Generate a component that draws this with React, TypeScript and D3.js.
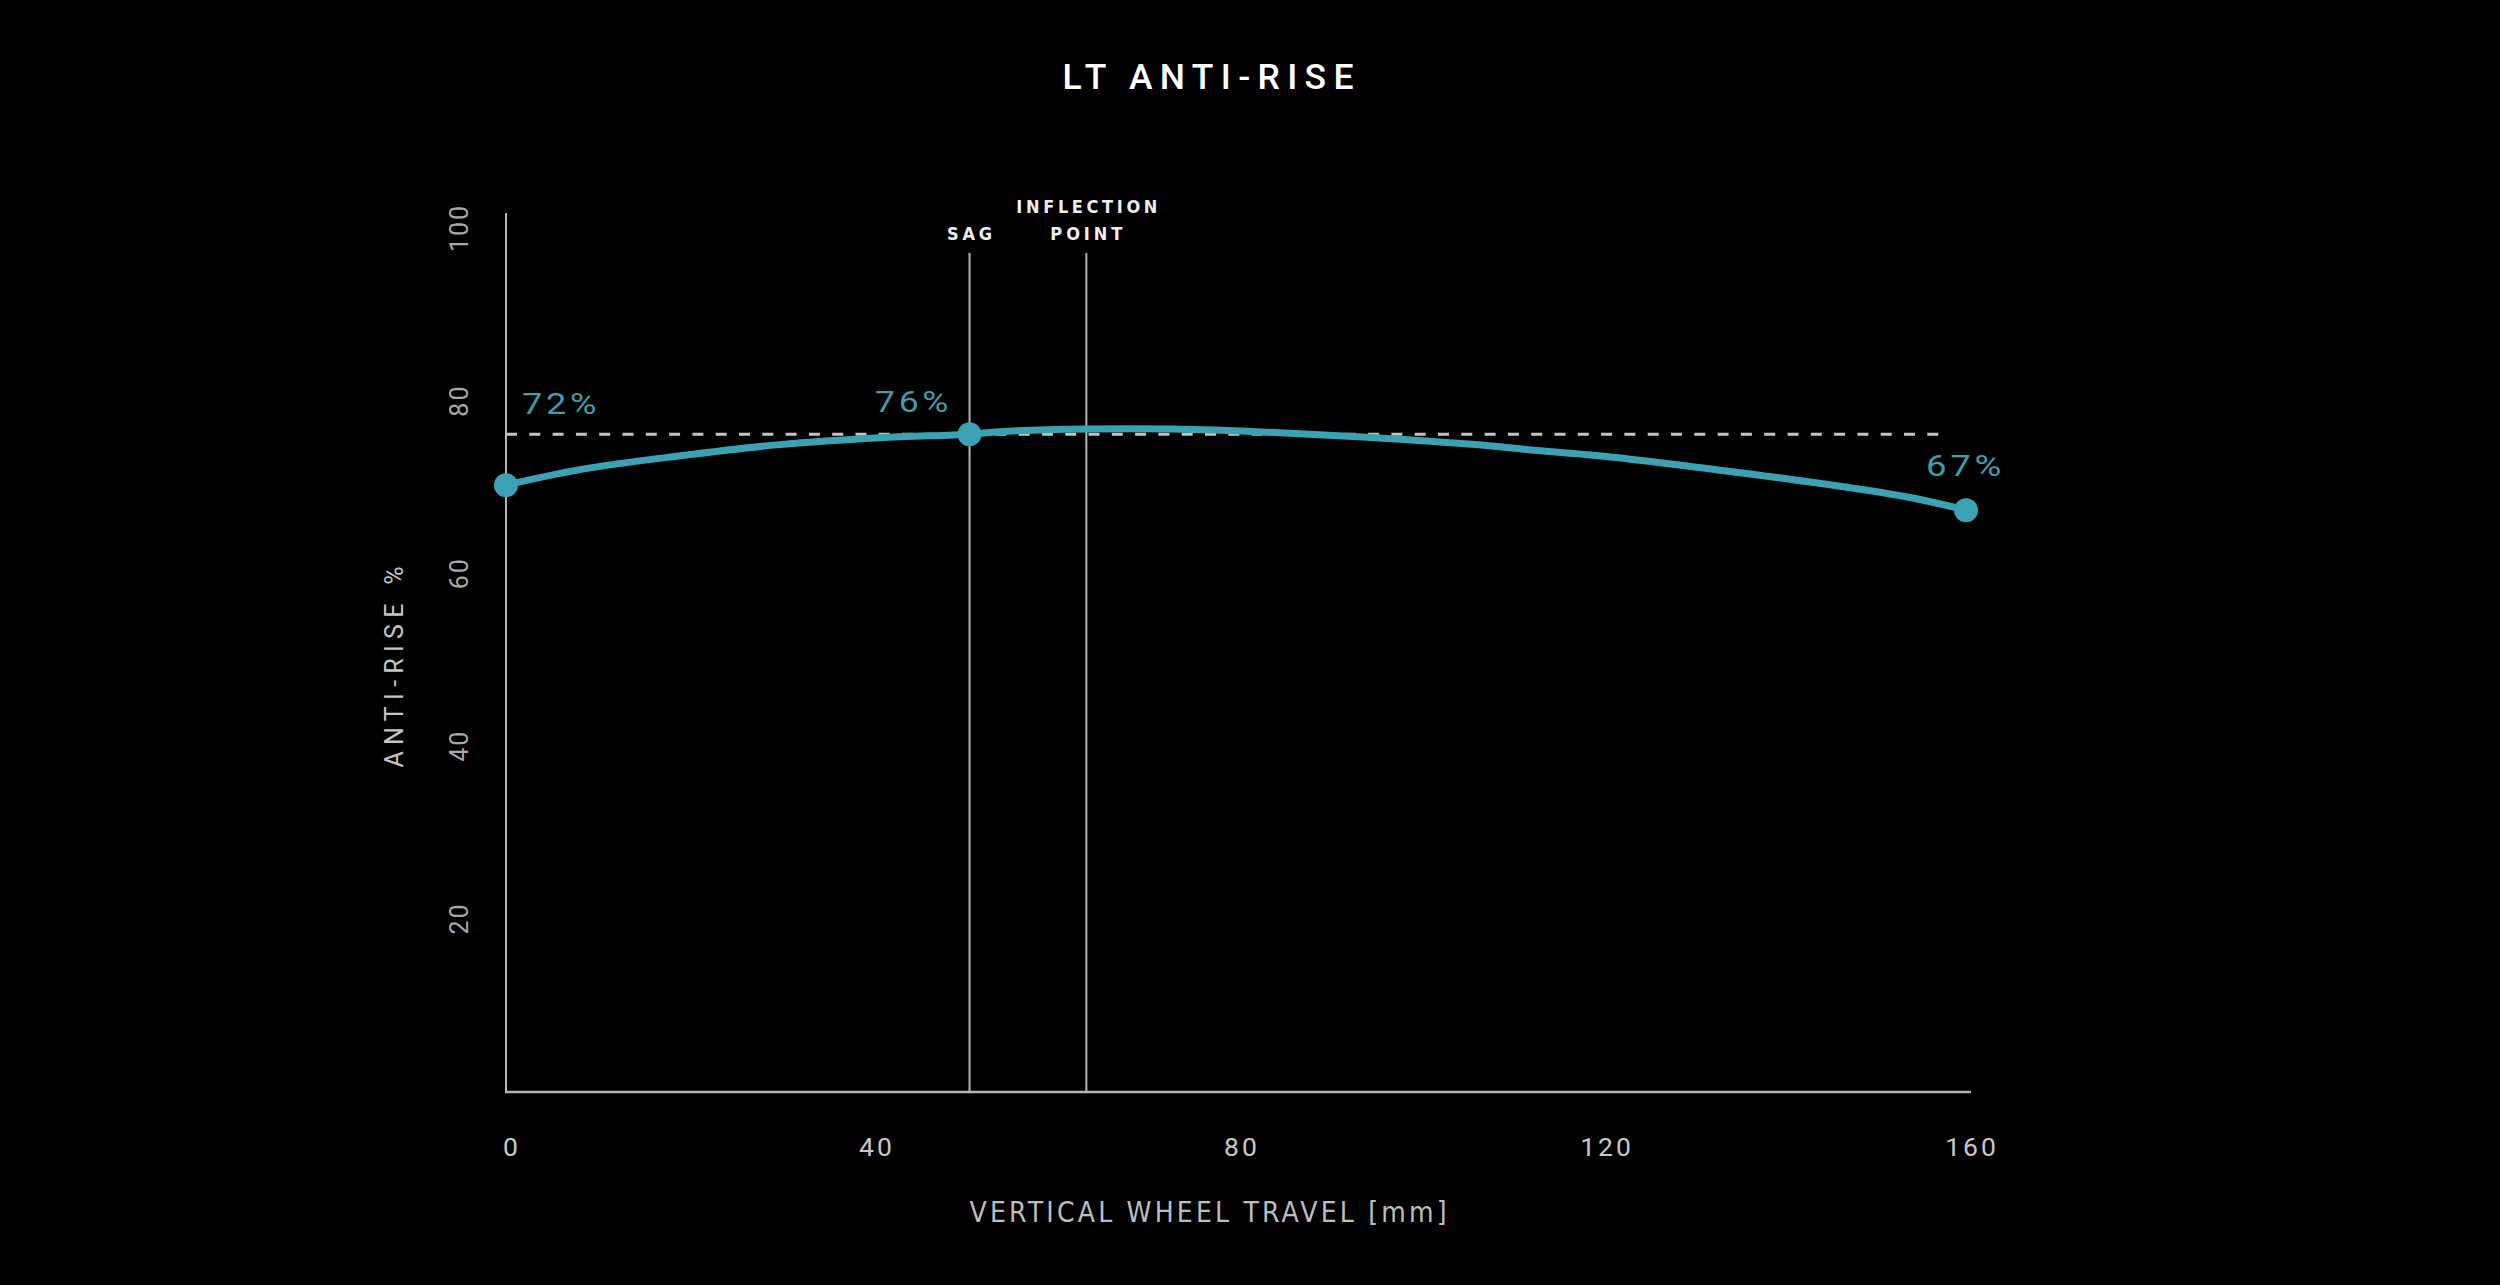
import React, { useEffect } from "react";
import * as d3 from "d3";

// ---- data ----
const travelMm = [0, 8.1, 19.1, 30.0, 41.0, 50.8, 54.1, 63.6, 73.0, 84.3, 95.3, 106.2, 112.1, 120.8, 131.8, 142.7, 153.7, 160];
const antiRisePct = [70.2, 72.0, 73.6, 74.9, 75.7, 76.1, 76.4, 76.7, 76.7, 76.3, 75.7, 74.9, 74.3, 73.5, 72.1, 70.6, 68.8, 67.3];
const markerTravel = [0, 50.8, 160];
const markerValue = [70.2, 76.1, 67.3];
const markerLabels = ["72%", "76%", "67%"];
const xTicks = [0, 40, 80, 120, 160];
const yTicks = [20, 40, 60, 80, 100];
const sagTravel = 50.8;
const inflectionTravel = 63.6;
const dashedLevel = 76.1;
const dashedEnd = 158.2;

const W = 2500;
const H = 1285;
const TEAL = "#3aa2b3";
const TEAL_TEXT = "#3f9dae";
const FONT = "Roboto, 'Noto Sans', 'DejaVu Sans', sans-serif";
const NARROW = "'Liberation Sans Narrow', 'DejaVu Sans Condensed', Roboto, sans-serif";

export default function App() {
  useEffect(() => {
    document.body.style.margin = "0";
    document.body.style.background = "#000";
  }, []);

  const x = d3.scaleLinear().domain([0, 160]).range([506, 1966]);
  const y = d3.scaleLinear().domain([0, 100]).range([1091, 228]);

  const pts: [number, number][] = travelMm.map((t, i) => [t, antiRisePct[i]]);
  const line = d3
    .line<[number, number]>()
    .x((d) => x(d[0]))
    .y((d) => y(d[1]))
    .curve(d3.curveCatmullRom.alpha(0.5));

  const axisColor = "#b4b4b4";

  return (
    <svg width={W} height={H} style={{ position: "absolute", left: 0, top: 0, display: "block" }}>
      <rect x={0} y={0} width={W} height={H} fill="#000" />

      {/* title */}
      <text x={1208} y={89} textAnchor="middle" fill="#fff" fontFamily={FONT} fontWeight={500} fontSize={35.5} textLength={291} lengthAdjust="spacing">
        LT ANTI-RISE
      </text>

      {/* y axis line */}
      <line x1={x(0)} x2={x(0)} y1={213} y2={y(0)} stroke={axisColor} strokeWidth={2} />
      {/* x axis line */}
      <line x1={x(0) - 1} x2={1971} y1={y(0) + 1} y2={y(0) + 1} stroke={axisColor} strokeWidth={2.6} />

      {/* sag & inflection lines */}
      <line x1={x(sagTravel)} x2={x(sagTravel)} y1={253} y2={y(0)} stroke={axisColor} strokeWidth={2} />
      <line x1={x(inflectionTravel)} x2={x(inflectionTravel)} y1={253} y2={y(0)} stroke={axisColor} strokeWidth={2} />

      <text x={x(sagTravel)} y={239.5} textAnchor="middle" fill="#eee" fontFamily={NARROW} fontWeight={700} fontSize={18} textLength={45} lengthAdjust="spacing">
        SAG
      </text>
      <text x={x(inflectionTravel) + 0.5} y={213.3} textAnchor="middle" fill="#eee" fontFamily={NARROW} fontWeight={700} fontSize={18} textLength={141} lengthAdjust="spacing">
        INFLECTION
      </text>
      <text x={x(inflectionTravel)} y={239.5} textAnchor="middle" fill="#eee" fontFamily={NARROW} fontWeight={700} fontSize={18} textLength={72} lengthAdjust="spacing">
        POINT
      </text>

      {/* dashed reference line */}
      <line x1={x(0)} x2={x(dashedEnd)} y1={y(dashedLevel)} y2={y(dashedLevel)} stroke="#c4c4c4" strokeWidth={3} strokeDasharray="11 12.3" />

      {/* curve */}
      <path d={line(pts) ?? ""} fill="none" stroke={TEAL} strokeWidth={7} strokeLinecap="round" />

      {/* markers */}
      {markerTravel.map((t, i) => (
        <circle key={i} cx={x(t)} cy={y(markerValue[i])} r={12} fill={TEAL} />
      ))}

      {/* marker labels */}
      <text x={522} y={414} fill={TEAL_TEXT} fontFamily={FONT} fontSize={29.5} letterSpacing={3} textLength={78} lengthAdjust="spacingAndGlyphs">
        {markerLabels[0]}
      </text>
      <text x={875} y={412} fill={TEAL_TEXT} fontFamily={FONT} fontSize={29.5} letterSpacing={3} textLength={77} lengthAdjust="spacingAndGlyphs">
        {markerLabels[1]}
      </text>
      <text x={1926} y={476} fill={TEAL_TEXT} fontFamily={FONT} fontSize={29.5} letterSpacing={3} textLength={79} lengthAdjust="spacingAndGlyphs">
        {markerLabels[2]}
      </text>

      {/* x ticks */}
      {xTicks.map((t) => (
        <text key={t} x={x(t) + 6} y={1156} textAnchor="middle" fill="#c8c8c8" fontFamily={FONT} fontSize={26.5} letterSpacing={3}>
          {t}
        </text>
      ))}

      {/* y ticks */}
      {yTicks.map((t) => (
        <text key={t} transform={`translate(468,${y(t)}) rotate(-90)`} textAnchor="middle" fill="#a8a8a8" fontFamily={FONT} fontSize={25} letterSpacing={2}>
          {t}
        </text>
      ))}

      {/* axis titles */}
      <text transform={`translate(403,667) rotate(-90)`} textAnchor="middle" fill="#c4c4c4" fontFamily={FONT} fontSize={25} textLength={201} lengthAdjust="spacing">
        ANTI-RISE %
      </text>
      <text x={1208} y={1222} textAnchor="middle" fill="#bdbdbd" fontFamily={NARROW} fontSize={28} textLength={477} lengthAdjust="spacing">
        VERTICAL WHEEL TRAVEL [mm]
      </text>
    </svg>
  );
}
